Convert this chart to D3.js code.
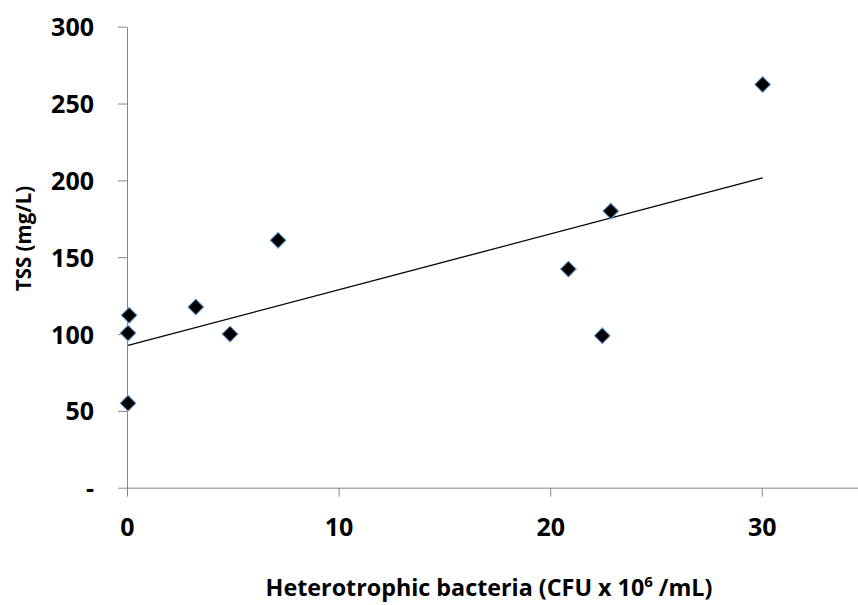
<!DOCTYPE html>
<html><head><meta charset="utf-8">
<script src="https://cdn.jsdelivr.net/npm/d3@7"></script>
<style>
html,body{margin:0;padding:0;background:#fff;}
svg{display:block;}
text{font-family:"Open Sans",sans-serif;font-weight:bold;fill:#000;}
</style></head>
<body>
<svg id="chart" width="858" height="605"></svg>
<script>
// Data
const bacteria = [0.05, 0.05, 0.1, 3.25, 4.87, 7.14, 20.86, 22.46, 22.86, 30.04];
const tss      = [55, 100.6, 112.2, 117.6, 100, 161, 142.3, 98.9, 180, 262.4];
const xTicks = [0, 10, 20, 30];
const yTicks = [0, 50, 100, 150, 200, 250, 300];
const xTitle = "Heterotrophic bacteria (CFU x 10";
const xTitleSup = "6";
const xTitleEnd = " /mL)";
const yTitle = "TSS (mg/L)";

const svg = d3.select("#chart");
const x = d3.scaleLinear().domain([0, 35]).range([127, 127 + 35 * 21.16]);
const y = d3.scaleLinear().domain([0, 300]).range([487.7, 26.7]);
const axisColor = "#868686";

// Y axis
const gy = svg.append("g").attr("transform", "translate(127,0)")
  .call(d3.axisLeft(y).tickValues(yTicks).tickSize(9).tickSizeOuter(0).tickPadding(24)
    .tickFormat(d => d === 0 ? "-" : d));
gy.select(".domain").attr("stroke", axisColor);
gy.selectAll(".tick line").attr("stroke", axisColor);
gy.selectAll(".tick text").attr("font-family", "Open Sans").attr("font-weight", "bold")
  .attr("font-size", 25).attr("dy", "0.36em");

// X axis
const gx = svg.append("g").attr("transform", "translate(0,487.7)")
  .call(d3.axisBottom(x).tickValues(xTicks).tickSize(9).tickSizeOuter(0));
gx.select(".domain").attr("stroke", axisColor);
gx.selectAll(".tick line").attr("stroke", axisColor);
gx.selectAll(".tick text").attr("font-family", "Open Sans").attr("font-weight", "bold")
  .attr("font-size", 25).attr("y", 48.3).attr("dy", 0);

// Trendline (least squares)
const data = bacteria.map((b, i) => ({x: b, y: tss[i]}));
const mx = d3.mean(bacteria), my = d3.mean(tss);
const sxy = d3.sum(data, d => (d.x - mx) * (d.y - my));
const sxx = d3.sum(data, d => (d.x - mx) ** 2);
const slope = sxy / sxx, icpt = my - slope * mx;
const [x0, x1] = d3.extent(bacteria);
svg.append("line")
  .attr("x1", x(x0)).attr("y1", y(icpt + slope * x0))
  .attr("x2", x(x1)).attr("y2", y(icpt + slope * x1))
  .attr("stroke", "#000").attr("stroke-width", 1.3);

// Markers
const sym = d3.symbol(d3.symbolSquare, 125);
svg.append("g").selectAll("path").data(data).join("path")
  .attr("d", sym)
  .attr("transform", d => `translate(${x(d.x)},${y(d.y)}) rotate(45)`)
  .attr("fill", "#000").attr("stroke", "#6a9fd8").attr("stroke-width", 1);

// Axis titles
const xt = svg.append("text").attr("x", 489).attr("y", 596)
  .attr("text-anchor", "middle").attr("font-size", 23.3);
xt.append("tspan").text(xTitle);
xt.append("tspan").text(xTitleSup).attr("font-size", 15).attr("dy", -9);
xt.append("tspan").text(xTitleEnd).attr("dy", 9);

svg.append("text").attr("transform", "translate(31,238.5) rotate(-90)")
  .attr("text-anchor", "middle").attr("font-size", 20.5).text(yTitle);
</script>
</body></html>
